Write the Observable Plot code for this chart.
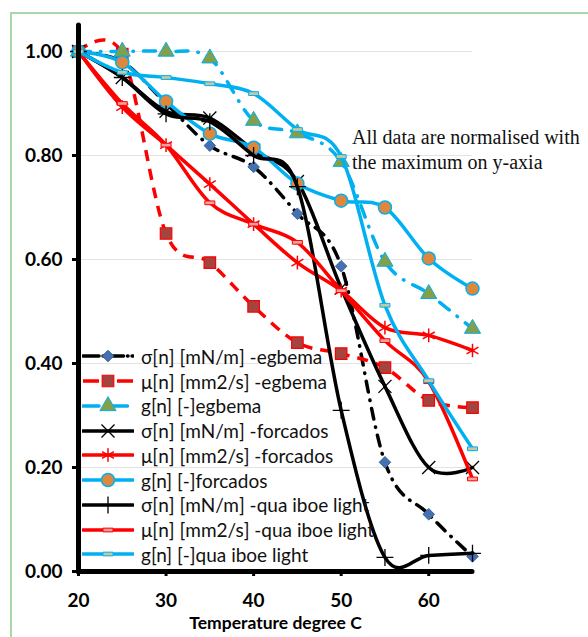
<!DOCTYPE html>
<html>
<head>
<meta charset="utf-8">
<script src="https://cdn.jsdelivr.net/npm/d3@7"></script>
<script src="https://cdn.jsdelivr.net/npm/@observablehq/plot@0.6"></script>
<style>
  html, body { margin: 0; padding: 0; background: #fff; overflow: hidden; }
  #wrap { position: relative; width: 588px; height: 637px; }
  #frame { position: absolute; left: 10px; top: 12px; width: 640px; height: 700px; border: 2px solid #a8d8a8; box-sizing: border-box; }
  #chart { position: absolute; left: 0; top: 0; }
  #legend { position: absolute; left: 82px; top: 344px; font-family: Lato, "Liberation Sans", sans-serif; font-size: 19px; color: #111; }
  .row { height: 24.75px; display: flex; align-items: center; white-space: nowrap; }
  .row svg { width: 52px; height: 22px; margin-right: 7px; flex: none; }
  #note { position: absolute; left: 352px; top: 125px; font-family: "Liberation Serif", "Times New Roman", serif; font-size: 20px; line-height: 25px; color: #111; white-space: nowrap; }
</style>
</head>
<body>
<div id="wrap">
  <div id="frame"></div>
  <div id="chart"></div>
  <div id="legend"></div>
  <div id="note">All data are normalised with<br>the maximum on y-axia</div>
</div>
<script>
// ---- data ----
const temps = [20, 25, 30, 35, 40, 45, 50, 55, 60, 65];
const sigmaEgbema   = [1.00, 0.98, 0.90, 0.819, 0.778, 0.688, 0.587, 0.21, 0.11, 0.029];
const muEgbema      = [1.00, 0.995, 0.65, 0.594, 0.51, 0.44, 0.419, 0.392, 0.329, 0.315];
const gEgbema       = [1.00, 1.00, 1.00, 0.987, 0.867, 0.843, 0.788, 0.596, 0.534, 0.467];
const sigmaForcados = [1.00, 0.95, 0.885, 0.872, 0.81, 0.75, 0.545, 0.356, 0.20, 0.20];
const muForcados    = [1.00, 0.893, 0.82, 0.745, 0.668, 0.594, 0.54, 0.469, 0.454, 0.425];
const gForcados     = [1.00, 0.979, 0.904, 0.842, 0.815, 0.746, 0.713, 0.70, 0.602, 0.544];
const sigmaQua      = [1.00, 0.95, 0.88, 0.865, 0.80, 0.74, 0.31, 0.027, 0.031, 0.035];
const muQua         = [1.00, 0.90, 0.82, 0.709, 0.668, 0.633, 0.54, 0.444, 0.365, 0.178];
const gQua          = [1.00, 0.96, 0.95, 0.938, 0.919, 0.85, 0.798, 0.512, 0.367, 0.236];

const seriesNames = [
  "σ[n] [mN/m] -egbema",
  "μ[n] [mm2/s] -egbema",
  "g[n] [-]egbema",
  "σ[n] [mN/m] -forcados",
  "μ[n] [mm2/s] -forcados",
  "g[n] [-]forcados",
  "σ[n] [mN/m] -qua iboe light",
  "μ[n] [mm2/s] -qua iboe light",
  "g[n] [-]qua iboe light"
];
const seriesValues = [sigmaEgbema, muEgbema, gEgbema, sigmaForcados, muForcados, gForcados, sigmaQua, muQua, gQua];
const yTicks = [0, 0.2, 0.4, 0.6, 0.8, 1.0];
const xTicks = [20, 30, 40, 50, 60];
const xLabel = "Temperature degree C";

// ---- styles ----
const BLACK = "#000000", RED = "#ff0000", BLUE = "#00b0f0";
const dashSymbol = {
  draw(context, size) {
    const r = Math.sqrt(size / Math.PI);
    const w = r * 2, h = r * 0.75;
    context.rect(-w / 2, -h / 2, w, h);
  }
};
const styles = [
  {stroke: BLACK, dash: "11,8,0.5,8", cap: "round", symbol: "diamond2", r: 5.2, fill: "#4471b0", mstroke: "#3a62a0", msw: 1},
  {stroke: RED, dash: "11,8", cap: "butt", symbol: "square", r: 6.5, fill: "#a5433f", mstroke: RED, msw: 1.2},
  {stroke: BLUE, dash: "12,10,0.5,10", cap: "round", symbol: "triangle", r: 6, fill: "#82a04a", mstroke: BLUE, msw: 1},
  {stroke: BLACK, dash: null, cap: "round", symbol: "times", r: 6, fill: "none", mstroke: BLACK, msw: 1.3},
  {stroke: RED, dash: null, cap: "round", symbol: "asterisk", r: 6.5, fill: "none", mstroke: RED, msw: 1.5},
  {stroke: BLUE, dash: null, cap: "round", symbol: "circle", r: 6.5, fill: "#e0873e", mstroke: BLUE, msw: 1.5},
  {stroke: BLACK, dash: null, cap: "round", symbol: "plus", r: 5.5, fill: "none", mstroke: BLACK, msw: 1.3},
  {stroke: RED, dash: null, cap: "round", symbol: dashSymbol, r: 5, fill: "#f2a0a0", mstroke: RED, msw: 1},
  {stroke: BLUE, dash: null, cap: "round", symbol: dashSymbol, r: 5, fill: "#c8c8a0", mstroke: BLUE, msw: 1}
];

const tables = seriesValues.map((vals, k) => temps.map((t, i) => ({t, v: vals[i], s: seriesNames[k]})));

const seriesMarks = [];
tables.forEach((data, k) => {
  const st = styles[k];
  seriesMarks.push(Plot.line(data, {
    x: "t", y: "v", curve: "cardinal", tension: 0,
    stroke: st.stroke, strokeWidth: 3.5,
    strokeDasharray: st.dash || undefined, strokeLinecap: st.cap, strokeLinejoin: "round"
  }));
  seriesMarks.push(Plot.dot(data, {
    x: "t", y: "v", symbol: st.symbol, r: st.r,
    fill: st.fill, stroke: st.mstroke, strokeWidth: st.msw
  }));
});

const chart = Plot.plot({
  width: 588, height: 637,
  marginLeft: 78, marginRight: 116, marginTop: 25, marginBottom: 66,
  x: {domain: [20, 65]},
  y: {domain: [0, 1.05]},
  style: {background: "transparent", fontFamily: "Lato, 'Liberation Sans', sans-serif", color: "#000"},
  marks: [
    Plot.gridY(yTicks.filter(d => d > 0), {stroke: "#e3e3e3", strokeOpacity: 1, strokeWidth: 1, x1: 20, x2: 65}),
    Plot.axisY({ticks: yTicks, tickFormat: d3.format(".2f"), tickSize: 6, tickPadding: 10, strokeWidth: 3,
      fontSize: 19, fontWeight: "bold", label: null}),
    Plot.axisX({ticks: xTicks, tickFormat: d => d, tickSize: 5, tickPadding: 17, strokeWidth: 3,
      fontSize: 19, fontWeight: "bold", label: null}),
    Plot.text([xLabel], {frameAnchor: "bottom", dy: 57, fontSize: 17.5, fontWeight: "bold", fill: "#000"}),
    ...seriesMarks,
    Plot.ruleX([20], {y1: 0, y2: 1.05, stroke: BLACK, strokeWidth: 5, strokeLinecap: "round"}),
    Plot.ruleY([0], {x1: 20, x2: 65, stroke: BLACK, strokeWidth: 5, strokeLinecap: "round"})
  ]
});
document.getElementById("chart").appendChild(chart);

// ---- legend ----
const symMap = {diamond2: d3.symbolDiamond2, square: d3.symbolSquare, triangle: d3.symbolTriangle,
  times: d3.symbolTimes, asterisk: d3.symbolAsterisk, circle: d3.symbolCircle, plus: d3.symbolPlus};
const legend = d3.select("#legend");
seriesNames.forEach((name, k) => {
  const st = styles[k];
  const row = legend.append("div").attr("class", "row");
  const svg = row.append("svg").attr("viewBox", "0 0 52 22");
  svg.append("line").attr("x1", 1).attr("x2", 51).attr("y1", 11).attr("y2", 11)
    .attr("stroke", st.stroke).attr("stroke-width", 3.5)
    .attr("stroke-dasharray", st.dash ? (k === 0 ? "16,4,0.5,4" : k === 1 ? "16,18" : "16,6,0.5,6") : null)
    .attr("stroke-linecap", st.cap);
  const type = typeof st.symbol === "string" ? symMap[st.symbol] : st.symbol;
  svg.append("path").attr("transform", "translate(26,11)")
    .attr("d", d3.symbol().type(type).size(Math.PI * st.r * st.r)())
    .attr("fill", st.fill).attr("stroke", st.mstroke).attr("stroke-width", st.msw);
  row.append("span").text(name);
});
</script>
</body>
</html>
